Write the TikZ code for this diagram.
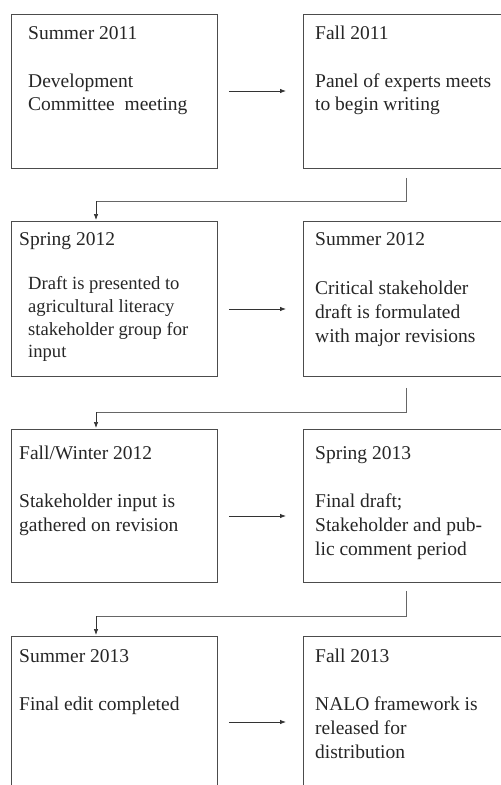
\documentclass[tikz,border=0pt]{standalone}
\usepackage{fontspec}
\setmainfont{Liberation Serif}
\usetikzlibrary{calc,arrows.meta}
\begin{document}
\begin{tikzpicture}[x=1pt,y=-1pt,
  box/.style={draw=black!70, line width=0.8pt, minimum width=206pt, minimum height=154pt, anchor=north west, inner sep=0pt},
  rbox/.style={box, minimum width=230pt},
  txt/.style={anchor=base west, inner sep=0pt, text=black!85, font=\fontsize{19.5}{23.5}\selectfont, align=left},
  stxt/.style={txt, font=\fontsize{18.6}{22.5}\selectfont},
  conn/.style={draw=black!60, line width=0.7pt},
  arr/.style={draw=black!80, line width=0.8pt, -{Latex[length=6pt,width=4.5pt]}}]
\clip (0,0) rectangle (501,785);
% boxes
\node[box] (b1) at (11,14) {};
\node[rbox] (b2) at (303,14) {};
\node[box, minimum height=155pt] (b3) at (11,221) {};
\node[rbox, minimum height=155pt] (b4) at (303,221) {};
\node[box, minimum height=153pt] (b5) at (11,429) {};
\node[rbox, minimum height=153pt] (b6) at (303,429) {};
\node[box, minimum height=170pt] (b7) at (11,636) {};
\node[rbox, minimum height=170pt] (b8) at (303,636) {};
% texts
\node[txt] (t1a) at (28,39) {Summer 2011};
\node[txt] (t1b) at (28,87) {Development};
\node[txt] (t1c) at (28,110) {Committee\ \ meeting};
\node[txt] (t2a) at (315,39) {Fall 2011};
\node[txt] (t2b) at (315,87) {Panel of experts meets};
\node[txt] (t2c) at (315,110) {to begin writing};
\node[txt] (t3a) at (19,245) {Spring 2012};
\node[stxt] (t3b) at (28,289) {Draft is presented to};
\node[stxt] (t3c) at (28,312) {agricultural literacy};
\node[stxt] (t3d) at (28,335) {stakeholder group for};
\node[stxt] (t3e) at (28,357) {input};
\node[txt] (t4a) at (315,245) {Summer 2012};
\node[txt] (t4b) at (315,294) {Critical stakeholder};
\node[txt] (t4c) at (315,318) {draft is formulated};
\node[txt] (t4d) at (315,342) {with major revisions};
\node[txt] (t5a) at (19,459) {Fall/Winter 2012};
\node[txt] (t5b) at (19,507) {Stakeholder input is};
\node[txt] (t5c) at (19,531) {gathered on revision};
\node[txt] (t6a) at (315,459) {Spring 2013};
\node[txt] (t6b) at (315,507) {Final draft;};
\node[txt] (t6c) at (315,531) {Stakeholder and pub-};
\node[txt] (t6d) at (315,555) {lic comment period};
\node[txt] (t7a) at (19,662) {Summer 2013};
\node[txt] (t7b) at (19,710) {Final edit completed};
\node[txt] (t8a) at (315,662) {Fall 2013};
\node[txt] (t8b) at (315,710) {NALO framework is};
\node[txt] (t8c) at (315,734) {released for};
\node[txt] (t8d) at (315,758) {distribution};
% horizontal arrows
\draw[arr] ($(b1.north east)+(11,77)$) -- ($(b2.north west)+(-17,77)$);
\draw[arr] ($(b3.north east)+(11,88)$) -- ($(b4.north west)+(-17,88)$);
\draw[arr] ($(b5.north east)+(11,87)$) -- ($(b6.north west)+(-17,87)$);
\draw[arr] ($(b7.north east)+(11,86)$) -- ($(b8.north west)+(-17,86)$);
% elbow connectors
\draw[conn] ($(b2.south west)+(103,9)$) |- ($(b3.north west)+(85,-20)$) coordinate (e1);
\draw[arr, line width=0.7pt] (e1) -- ($(b3.north west)+(85,-1)$);
\draw[conn] ($(b4.south west)+(103,11)$) |- ($(b5.north west)+(85,-17)$) coordinate (e2);
\draw[arr, line width=0.7pt] (e2) -- ($(b5.north west)+(85,-1)$);
\draw[conn] ($(b6.south west)+(103,8)$) |- ($(b7.north west)+(85,-20)$) coordinate (e3);
\draw[arr, line width=0.7pt] (e3) -- ($(b7.north west)+(85,-1)$);
\end{tikzpicture}
\end{document}
